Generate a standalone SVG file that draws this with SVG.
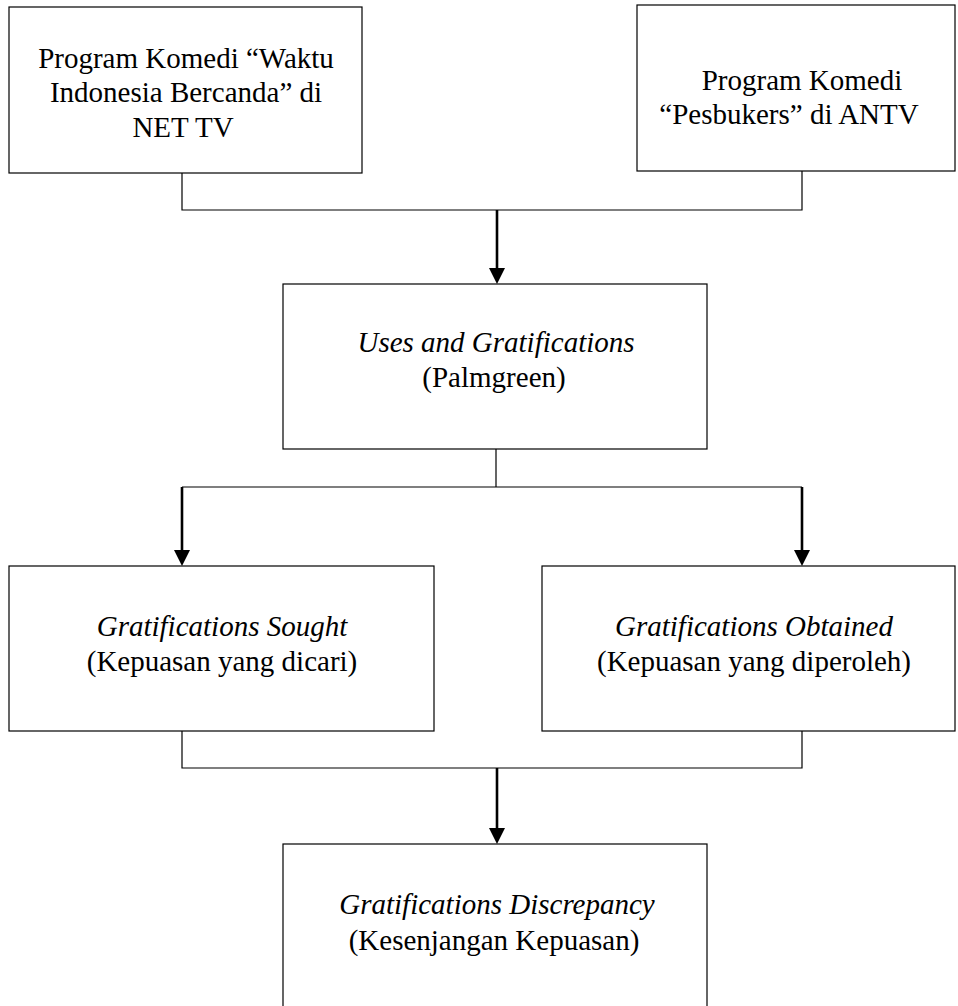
<svg xmlns="http://www.w3.org/2000/svg" width="958" height="1006" viewBox="0 0 958 1006">
  <style>
    .box { fill: #ffffff; stroke: #000000; stroke-width: 1.2; }
    .t { font-family: "Liberation Serif", "Times New Roman", serif; font-size: 29px; fill: #000000; text-anchor: middle; }
    .i { font-style: italic; }
    .conn { fill: none; stroke: #000000; stroke-width: 1.2; }
    .arr { fill: none; stroke: #000000; stroke-width: 2.6; }
  </style>
  <defs>
    <marker id="ah" markerUnits="userSpaceOnUse" markerWidth="16" markerHeight="16" refX="8" refY="8" orient="auto" viewBox="0 0 16 16">
      <path d="M0,0 L16,8 L0,16 z" fill="#000000"/>
    </marker>
  </defs>
  <rect width="958" height="1006" fill="#ffffff"/>

  <g id="connectors">
    <path class="conn" d="M182,173 V210 H802 V171"/>
    <line class="arr" x1="497" y1="210" x2="497" y2="276" marker-end="url(#ah)"/>
    <path class="conn" d="M496,449 V487 M182,487 H802"/>
    <line class="arr" x1="182" y1="487" x2="182" y2="558" marker-end="url(#ah)"/>
    <line class="arr" x1="802" y1="487" x2="802" y2="558" marker-end="url(#ah)"/>
    <path class="conn" d="M182,731 V768 H802 V731"/>
    <line class="arr" x1="497" y1="768" x2="497" y2="836" marker-end="url(#ah)"/>
  </g>

  <g id="node-wib">
    <rect class="box" x="9" y="7" width="353" height="166"/>
    <text class="t" x="186" y="68">Program Komedi “Waktu</text>
    <text class="t" x="186" y="102">Indonesia Bercanda” di</text>
    <text class="t" x="183" y="137">NET TV</text>
  </g>

  <g id="node-pesbukers">
    <rect class="box" x="637" y="5" width="318" height="166"/>
    <text class="t" x="802" y="90">Program Komedi</text>
    <text class="t" x="789" y="124">“Pesbukers” di ANTV</text>
  </g>

  <g id="node-uses">
    <rect class="box" x="283" y="284" width="424" height="165"/>
    <text class="t i" x="496" y="352">Uses and Gratifications</text>
    <text class="t" x="494" y="387">(Palmgreen)</text>
  </g>

  <g id="node-sought">
    <rect class="box" x="9" y="566" width="425" height="165"/>
    <text class="t i" x="222" y="636">Gratifications Sought</text>
    <text class="t" x="222" y="671">(Kepuasan yang dicari)</text>
  </g>

  <g id="node-obtained">
    <rect class="box" x="542" y="566" width="413" height="165"/>
    <text class="t i" x="754" y="636">Gratifications Obtained</text>
    <text class="t" x="754" y="671">(Kepuasan yang diperoleh)</text>
  </g>

  <g id="node-discrepancy">
    <rect class="box" x="283" y="844" width="424" height="170"/>
    <text class="t i" x="497" y="914">Gratifications Discrepancy</text>
    <text class="t" x="494" y="950">(Kesenjangan Kepuasan)</text>
  </g>
</svg>
